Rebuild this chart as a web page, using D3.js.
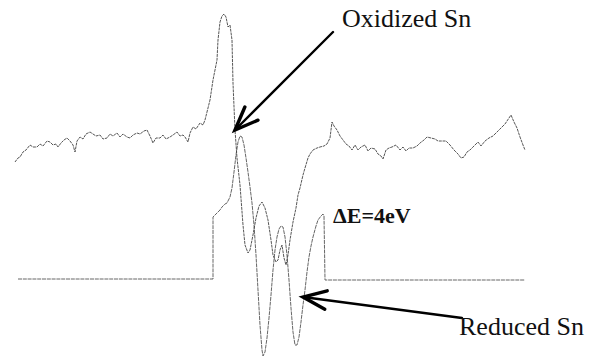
<!DOCTYPE html>
<html>
<head>
<meta charset="utf-8">
<script src="https://cdn.jsdelivr.net/npm/d3@7"></script>
<style>
  html, body { margin: 0; padding: 0; background: #fff; }
  svg { display: block; }
  .lbl { font-family: "Liberation Serif", "Times New Roman", serif; fill: #111; }
</style>
</head>
<body>
<svg id="chart" width="597" height="362"></svg>
<script>
// Derivative spectra of Sn: energy (eV, relative) and intensity (arb. units)

// Oxidized Sn – measured, noisy trace
const oxEnergy = [0,0.6,1.0,1.6,2.2,3.0,3.6,4.4,5.0,5.6,6.4,7.0,7.6,8.2,8.6,9.2,9.8,10.4,11.0,11.6,12.0,12.4,13.0,13.6,14.2,15.0,15.6,16.2,17.0,17.6,18.4,19.0,19.6,20.4,21.0,21.6,22.4,23.0,23.6,24.4,25.0,25.8,26.4,27.0,27.6,28.2,29.0,29.6,30.2,31.0,31.6,32.4,33.0,33.6,34.0,34.6,35.0,35.6,36.2,37.0,37.6,38.0,38.6,39.0,39.6,40.0,40.4,40.6,41.0,41.4,41.8,42.2,42.6,43.0,43.4,43.6,44.0,44.4,45.0,45.6,46.0,46.6,47.0,47.6,48.2,48.8,49.4,50.0,50.6,51.2,51.6,52.2,52.6,53.0,53.4,53.8,54.2,54.6,55.0,55.6,56.2,56.6,57.0,57.6,58.0,58.6,59.0,59.6,60.4,61.0,61.8,62.4,63.0,63.4,63.8,64.4,65.0,65.6,66.2,66.8,67.4,68.0,68.6,69.2,70.0,70.6,71.2,72.0,72.6,73.2,73.6,74.2,74.8,75.4,76.2,77.0,77.6,78.2,78.8,79.6,80.4,81.0,81.8,82.4,83.2,84.0,84.6,85.4,86.2,87.0,87.8,88.6,89.2,89.8,90.4,91.0,91.8,92.6,93.2,94.0,94.8,95.6,96.4,97.2,98.0,98.8,99.2,99.8,100.4,101.0,101.6,102.0];
const oxSignal = [100,102,102.5,105,106,108.5,107.5,107.5,109,108,110.5,110,108.5,109,107.5,109.5,111,112,110.5,108.5,105,110.5,112.5,111.5,114,115,114,113,113.5,111.5,112,114,113,114.5,112.5,114,112.5,112,113.5,114.5,114,115.5,116,113,109.5,112,112,113.5,111.5,112.5,113.5,115,113,113.5,112.5,110,114.5,117.5,116.5,119.5,118.5,121,127,131,141,146,151,161,170,173,174,172.5,167.5,168.5,161,139.5,116,102,88.5,68.5,58.5,54.5,56,63.5,72,78,80,77,71,61,53.5,50,51,56,58.5,52,48.5,53.5,61,70,77,83.5,87,93.5,97,102,104,106,107,107.5,108,109,112,120,118,116,113,111,109,108,106,108.5,106,107.5,108.5,105.5,107,106.5,104,103,101.5,106,107,107.5,108.5,106,107.5,105.5,107,107,108,109.5,111,112.5,112,111.5,110.5,110.5,110.5,108.5,106,104,102,102.5,105,106,108,110,108,110.5,112,113,115,117,119,122,123.5,120,117,112.5,108.5,106];

// Reduced Sn – trace, flat outside its window
const redEnergy = [0.6,39.6,39.6,40.0,40.4,41.0,41.4,42.0,42.4,43.0,43.4,43.8,44.2,44.6,45.0,45.4,45.8,46.2,46.6,47.0,47.4,47.8,48.2,48.6,49.0,49.4,49.6,50.0,50.4,50.8,51.2,51.6,52.0,52.4,52.8,53.2,53.6,54.0,54.4,54.8,55.2,55.6,56.0,56.4,56.8,57.2,57.6,58.0,58.4,58.8,59.2,59.6,60.2,60.6,61.2,61.6,61.8,62.0,102.0];
const redSignal = [41.5,41.5,72.5,73.5,74.5,76,77.5,79,79.5,82.5,87,95,103.5,110,113,112.5,108.5,102,95,87.5,79.5,68.5,53.5,36,18.5,6,3,5,12,22,33.5,46,56,62.5,66.5,68,67.5,62.5,53.5,41,27,15,8.5,8.5,12.5,20,28.5,36,45,52.5,58,62.5,68,71,73,74,73,41,41];

// Annotations: label, text anchor point, arrow tip and arrow tail (data units)
const noteLabels = ["Oxidized Sn", "Reduced Sn"];
const noteText   = [[65.4, 167.5], [88.8, 13.5]];
const noteTip    = [[44.0, 116], [57.6, 32.5]];
const noteTail   = [[63.6, 165], [89.4, 22]];
const shiftLabel = "\u0394E=4eV";
const shiftPos   = [63.6, 69.5];

const svg = d3.select("#chart");
const x = d3.scaleLinear().domain([0, 102]).range([15, 525]);
const y = d3.scaleLinear().domain([0, 181]).range([362, 0]);

const line = d3.line().x(d => x(d[0])).y(d => y(d[1]));

const oxData = oxEnergy.map((e, i) => [e, oxSignal[i]]);
const redData = redEnergy.map((e, i) => [e, redSignal[i]]);

svg.append("path").datum(redData)
  .attr("d", line)
  .attr("fill", "none")
  .attr("stroke", "#555")
  .attr("stroke-width", 0.9)
  .attr("stroke-dasharray", "4,0.8");

svg.append("path").datum(oxData)
  .attr("d", line)
  .attr("fill", "none")
  .attr("stroke", "#444")
  .attr("stroke-width", 0.9)
  .attr("stroke-dasharray", "3,0.8");

// Arrows
function arrow(tip, tail) {
  const tx = x(tip[0]), ty = y(tip[1]);
  const sx = x(tail[0]), sy = y(tail[1]);
  const ang = Math.atan2(sy - ty, sx - tx);
  const len = 25, half = 0.38;
  const b1 = [tx + len * Math.cos(ang - half), ty + len * Math.sin(ang - half)];
  const b2 = [tx + len * Math.cos(ang + half), ty + len * Math.sin(ang + half)];
  const g = svg.append("g").attr("stroke", "#000").attr("stroke-linecap", "round").attr("fill", "none");
  g.append("line").attr("x1", sx).attr("y1", sy).attr("x2", tx).attr("y2", ty).attr("stroke-width", 2.4);
  g.append("path")
    .attr("d", `M${b1[0]},${b1[1]}L${tx},${ty}L${b2[0]},${b2[1]}`)
    .attr("stroke-width", 3.4)
    .attr("stroke-linejoin", "miter");
}
noteTip.forEach((t, i) => arrow(t, noteTail[i]));

svg.selectAll("text.note").data(noteLabels).enter().append("text")
  .attr("class", "lbl note")
  .attr("x", (d, i) => x(noteText[i][0]))
  .attr("y", (d, i) => y(noteText[i][1]))
  .attr("font-size", 26)
  .text(d => d);

svg.append("text")
  .attr("class", "lbl")
  .attr("x", x(shiftPos[0]))
  .attr("y", y(shiftPos[1]))
  .attr("font-size", 22)
  .attr("font-weight", "bold")
  .text(shiftLabel);
</script>
</body>
</html>
